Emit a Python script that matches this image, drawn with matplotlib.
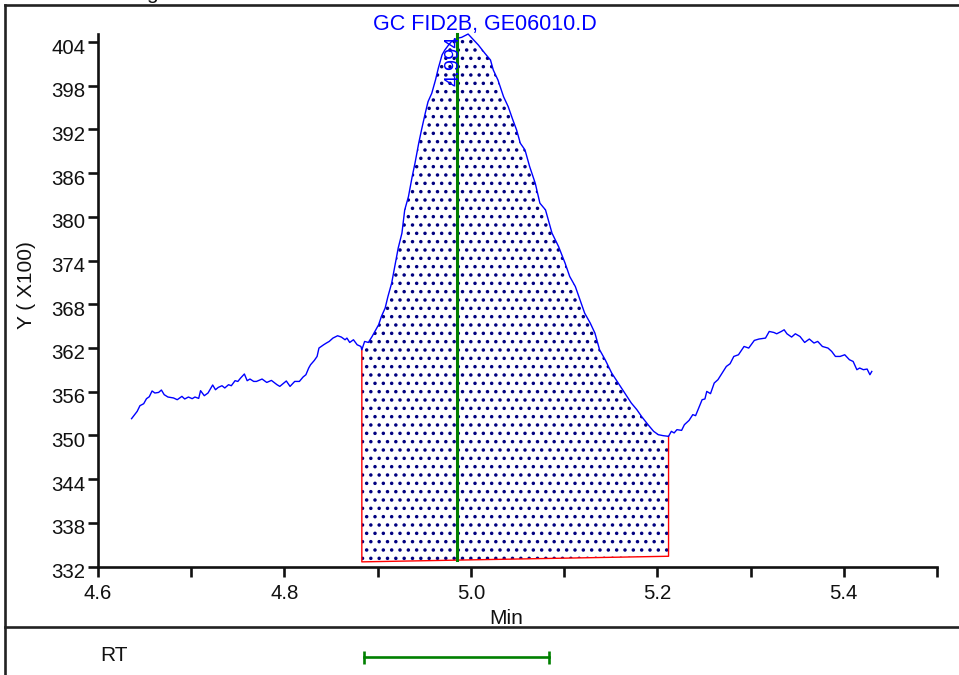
import numpy as np
import matplotlib.pyplot as plt
from matplotlib.lines import Line2D
from matplotlib.transforms import ScaledTranslation

plt.rcParams['font.family'] = ['Liberation Sans', 'DejaVu Sans']
plt.rcParams['hatch.color'] = 'navy'
plt.rcParams['hatch.linewidth'] = 1.3

# trace (time in min, signal in counts/100)
time_min = [4.636, 4.642, 4.645, 4.649, 4.652, 4.655, 4.658, 4.661, 4.665, 4.668,
            4.671, 4.675, 4.681, 4.685, 4.690, 4.693, 4.697, 4.701, 4.704, 4.708,
            4.710, 4.714, 4.718, 4.723, 4.726, 4.729, 4.733, 4.736, 4.740, 4.743,
            4.747, 4.750, 4.753, 4.757, 4.760, 4.763, 4.767, 4.770, 4.776, 4.781,
            4.786, 4.792, 4.795, 4.802, 4.806, 4.811, 4.816, 4.820, 4.823, 4.826,
            4.828, 4.832, 4.835, 4.837, 4.842, 4.845, 4.848, 4.852, 4.857, 4.861,
            4.865, 4.867, 4.870, 4.874, 4.878, 4.882, 4.883, 4.886, 4.890, 4.894,
            4.897, 4.901, 4.904, 4.908, 4.911, 4.915, 4.919, 4.922, 4.926, 4.929,
            4.933, 4.937, 4.940, 4.944, 4.947, 4.951, 4.954, 4.958, 4.962, 4.965,
            4.969, 4.972, 4.976, 4.979, 4.985, 4.990, 4.997, 5.003, 5.008, 5.015,
            5.021, 5.024, 5.029, 5.035, 5.040, 5.045, 5.049, 5.053, 5.058, 5.063,
            5.069, 5.074, 5.080, 5.087, 5.094, 5.101, 5.106, 5.112, 5.117, 5.122,
            5.128, 5.133, 5.138, 5.144, 5.151, 5.158, 5.165, 5.172, 5.178, 5.183,
            5.190, 5.196, 5.201, 5.206, 5.212, 5.215, 5.218, 5.221, 5.226, 5.229,
            5.234, 5.238, 5.241, 5.245, 5.248, 5.251, 5.253, 5.257, 5.261, 5.265,
            5.270, 5.274, 5.278, 5.282, 5.287, 5.293, 5.298, 5.304, 5.309, 5.316,
            5.320, 5.325, 5.328, 5.333, 5.336, 5.339, 5.344, 5.348, 5.353, 5.358,
            5.363, 5.368, 5.372, 5.377, 5.383, 5.387, 5.391, 5.396, 5.401, 5.406,
            5.410, 5.414, 5.417, 5.421, 5.425, 5.428, 5.430]
signal = [352.30, 353.30, 354.08, 354.35, 355.04, 355.31, 356.10, 355.82, 355.90, 356.23,
          355.59, 355.27, 355.14, 354.90, 355.36, 355.00, 355.27, 355.04, 355.27, 355.08,
          356.14, 355.45, 355.82, 356.92, 356.27, 356.59, 356.82, 356.51, 356.96, 356.82,
          357.51, 357.41, 357.88, 358.43, 357.51, 357.74, 357.41, 357.41, 357.74, 357.27,
          357.55, 356.96, 356.73, 357.47, 356.73, 357.41, 357.41, 358.02, 358.33, 359.25,
          359.70, 360.29, 360.84, 361.99, 362.44, 362.68, 362.90, 363.36, 363.68, 363.50,
          363.13, 363.36, 362.76, 363.13, 362.44, 362.21, 361.76, 362.90, 362.76, 363.58,
          364.27, 365.19, 366.33, 367.48, 369.07, 370.91, 373.65, 375.71, 377.76, 380.96,
          382.78, 385.53, 387.36, 390.11, 391.93, 394.22, 395.81, 396.96, 398.79, 400.39,
          402.22, 402.90, 403.59, 404.04, 404.51, 404.64, 405.10, 404.27, 403.59, 402.45,
          401.53, 400.16, 398.79, 396.50, 395.13, 393.30, 391.93, 390.11, 389.19, 386.90,
          384.62, 381.88, 380.96, 377.76, 375.93, 373.65, 371.81, 370.44, 368.62, 366.79,
          365.42, 364.05, 361.76, 360.39, 358.56, 357.19, 355.82, 354.45, 353.53, 352.61,
          351.47, 350.56, 350.10, 349.97, 349.87, 350.56, 350.34, 350.79, 350.69, 351.47,
          352.06, 352.85, 352.71, 353.98, 354.90, 355.00, 356.04, 355.73, 357.19, 357.65,
          358.65, 359.47, 359.84, 360.84, 361.07, 362.21, 361.99, 363.04, 363.23, 363.36,
          364.27, 364.13, 363.95, 364.27, 364.50, 363.95, 363.50, 363.95, 363.58, 362.76,
          363.23, 362.68, 362.90, 362.21, 361.99, 361.53, 360.84, 360.84, 361.07, 360.39,
          360.15, 359.02, 359.25, 359.02, 359.11, 358.33, 358.78]

# integration / peak info
peak_label = '4.994'
peak_time = 4.985
int_start, int_end = 4.883, 5.212
base_start, base_end = 332.64, 333.41
rt_window = [4.885, 5.084]

y_ticks = [332, 338, 344, 350, 356, 362, 368, 374, 380, 386, 392, 398, 404]
x_major = [4.6, 4.8, 5.0, 5.2, 5.4]
x_minor = [4.7, 4.9, 5.1, 5.3, 5.5]
x_range = (4.6, 5.5)
y_range = (332, 405.1)

t = np.array(time_min)
s = np.array(signal)

fig = plt.figure(figsize=(9.59, 6.75), dpi=100)
ax = fig.add_axes([0.1022, 0.1607, 0.8749, 0.7889])

# shaded peak area between the baseline and the trace
m = (t >= int_start) & (t <= int_end)
base = np.interp(t[m], [int_start, int_end], [base_start, base_end])
ax.fill_between(t[m], base, s[m], facecolor='white', edgecolor='navy',
                hatch='..', linewidth=0, zorder=1)

# red integration outline
s0 = np.interp(int_start, t, s)
s1 = np.interp(int_end, t, s)
ax.plot([int_start, int_start, int_end, int_end], [s0, base_start, base_end, s1],
        color='red', lw=1, zorder=2)

ax.plot(t, s, color='blue', lw=1, zorder=3, clip_on=False)

# peak marker
pb = np.interp(peak_time, [int_start, int_end], [base_start, base_end])
ax.plot([peak_time, peak_time], [pb, y_range[1]], color='green', lw=2.2,
        zorder=4, clip_on=False)
ax.annotate(peak_label, xy=(peak_time, y_range[1]), xytext=(-3, -1),
            textcoords='offset points', rotation=90, ha='center', va='top',
            color='blue', fontsize=14.5, zorder=5)

ax.set_xlim(*x_range)
ax.set_ylim(*y_range)
ax.set_xticks(x_major)
ax.set_xticks(x_minor, minor=True)
ax.set_xticklabels([f'{v:.1f}' for v in x_major])
ax.set_yticks(y_ticks)
ax.set_yticklabels([str(v) for v in y_ticks])

for side in ['top', 'right']:
    ax.spines[side].set_visible(False)
for side in ['left', 'bottom']:
    ax.spines[side].set_linewidth(1.9)
    ax.spines[side].set_color('#111111')
ax.tick_params(axis='both', which='both', direction='out', length=7.2,
               width=1.9, colors='#111111', labelsize=14.7)
ax.tick_params(axis='x', which='both', pad=5.5)
ax.tick_params(axis='y', pad=2)

off = ScaledTranslation(0, -4 / 100, fig.dpi_scale_trans)
for lab in ax.get_yticklabels():
    lab.set_transform(lab.get_transform() + off)

# labels and titles
fig.text(485 / 959, 1 - 30 / 675, 'GC FID2B, GE06010.D', color='blue',
         fontsize=15.5, ha='center', va='baseline')
fig.text(506 / 959, 1 - 624 / 675, 'Min', fontsize=15, ha='center',
         va='baseline', color='#111111')
fig.text(26 / 959, 1 - 285 / 675, 'Y ( X100)', fontsize=15, rotation=90,
         ha='center', va='center', color='#111111')
fig.text(146 / 959, 1 + 1.5 / 675, 'g', fontsize=15, ha='left',
         va='baseline', color='#111111')
fig.text(100 / 959, 1 - 661 / 675, 'RT', fontsize=15, ha='left',
         va='baseline', color='#111111')

# RT window panel
ax_rt = fig.add_axes([0.1022, 0.0, 0.8749, 0.0711])
ax_rt.set_xlim(*x_range)
ax_rt.set_ylim(0, 1)
ax_rt.axis('off')
ax_rt.plot(rt_window, [0.37, 0.37], color='green', lw=1.9)
ax_rt.vlines(rt_window, 0.23, 0.49, color='green', lw=1.9)

# report frame lines
frame = dict(color='#222222', lw=1.9)
fig.add_artist(Line2D([0.0052, 1], [0.9919, 0.9919], **frame))
fig.add_artist(Line2D([0.0052, 0.0052], [0, 0.9919], **frame))
fig.add_artist(Line2D([0.0052, 1], [0.0711, 0.0711], **frame))

fig.savefig('out.png', dpi=100)
